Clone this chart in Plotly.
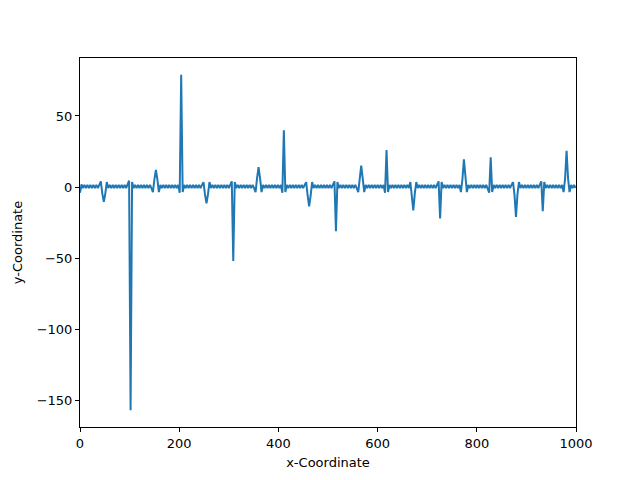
import plotly.graph_objects as go

# samples every 3 units along x, starting at 0
x_start = 0
x_step = 3

y_values = [
    -4.0, 1.8, -0.7, 1.5, -0.7, 1.5, -0.7, 1.5, -0.7, 1.5, -0.7, 1.5, -0.7, 1.5, 4.0, -4.6, -10.3,
    -4.6, 3.5, -0.7, 1.5, -0.7, 1.5, -0.7, 1.5, -0.7, 1.5, -0.7, 1.5, -0.7, 1.5, -0.7, 1.5, 4.5,
    -157.0, 3.5, -0.7, 1.5, -0.7, 1.5, -0.7, 1.5, -0.7, 1.5, -0.7, 1.5, -0.7, 1.5, -0.7, -3.5, 5.4,
    12.0, 5.4, -3.5, 1.5, -0.7, 1.5, -0.7, 1.5, -0.7, 1.5, -0.7, 1.5, -0.7, 1.5, -0.7, 1.5, -4.0,
    79.0, -3.5, 1.5, -0.7, 1.5, -0.7, 1.5, -0.7, 1.5, -0.7, 1.5, -0.7, 1.5, -0.7, 1.5, 3.5, -5.2,
    -11.5, -5.2, 3.5, -0.7, 1.5, -0.7, 1.5, -0.7, 1.5, -0.7, 1.5, -0.7, 1.5, -0.7, 1.5, -0.7, 1.5,
    4.0, -52.0, 3.5, -0.7, 1.5, -0.7, 1.5, -0.7, 1.5, -0.7, 1.5, -0.7, 1.5, -0.7, 1.5, -0.7, -3.5,
    6.3, 14.0, 6.3, -3.5, 1.5, -0.7, 1.5, -0.7, 1.5, -0.7, 1.5, -0.7, 1.5, -0.7, 1.5, -0.7, 1.5,
    -4.0, 40.0, -3.5, 1.5, -0.7, 1.5, -0.7, 1.5, -0.7, 1.5, -0.7, 1.5, -0.7, 1.5, -0.7, 1.5, 3.5,
    -6.1, -13.5, -6.1, 3.5, -0.7, 1.5, -0.7, 1.5, -0.7, 1.5, -0.7, 1.5, -0.7, 1.5, -0.7, 1.5, -0.7,
    1.5, 4.0, -31.0, 3.5, -0.7, 1.5, -0.7, 1.5, -0.7, 1.5, -0.7, 1.5, -0.7, 1.5, -0.7, 1.5, -0.7,
    -3.5, 6.0, 15.0, 6.0, -3.5, 1.5, -0.7, 1.5, -0.7, 1.5, -0.7, 1.5, -0.7, 1.5, -0.7, 1.5, -0.7,
    1.5, -4.0, 26.0, -3.5, 1.5, -0.7, 1.5, -0.7, 1.5, -0.7, 1.5, -0.7, 1.5, -0.7, 1.5, -0.7, 1.5,
    -0.7, 3.5, -5.0, -16.5, -4.5, 3.5, -0.7, 1.5, -0.7, 1.5, -0.7, 1.5, -0.7, 1.5, -0.7, 1.5, -0.7,
    1.5, -0.7, 1.5, 4.0, -22.0, 3.5, -0.7, 1.5, -0.7, 1.5, -0.7, 1.5, -0.7, 1.5, -0.7, 1.5, -0.7,
    1.5, -3.5, 5.5, 19.5, 5.0, -3.5, 1.5, -0.7, 1.5, -0.7, 1.5, -0.7, 1.5, -0.7, 1.5, -0.7, 1.5,
    -0.7, 1.5, -0.7, -4.0, 21.0, -3.5, 1.5, -0.7, 1.5, -0.7, 1.5, -0.7, 1.5, -0.7, 1.5, -0.7, 1.5,
    -0.7, 1.5, 3.5, -5.5, -21.0, -5.0, 3.5, -0.7, 1.5, -0.7, 1.5, -0.7, 1.5, -0.7, 1.5, -0.7, 1.5,
    -0.7, 1.5, -0.7, 1.5, 4.0, -17.0, 3.5, -0.7, 1.5, -0.7, 1.5, -0.7, 1.5, -0.7, 1.5, -0.7, 1.5,
    -0.7, 1.5, -3.5, 6.0, 25.5, 6.0, -3.5, 1.5, -0.7, 1.5, -0.7,
]

x_ticks = [0, 200, 400, 600, 800, 1000]
y_ticks = [-150, -100, -50, 0, 50]

fig = go.Figure()
fig.add_trace(go.Scatter(x0=x_start, dx=x_step, y=y_values, mode='lines',
                         line=dict(color='#1f77b4', width=2), showlegend=False))

axis_style = dict(showline=True, mirror=True, linecolor='black', linewidth=1,
                  ticks='outside', ticklen=4, tickwidth=1, tickcolor='black',
                  showgrid=False, zeroline=False, automargin=False,
                  tickfont=dict(family='DejaVu Sans', size=13, color='black'))

# page body adds an 8px offset, so the figure is 8px smaller than the window
fig.update_layout(width=632, height=472, paper_bgcolor='white', plot_bgcolor='white',
                  margin=dict(l=72, r=64, t=50, b=53),
                  font=dict(family='DejaVu Sans', size=13, color='black'))
fig.update_xaxes(range=[0, 1000], tickvals=x_ticks,
                 title=dict(text='x-Coordinate', standoff=8, font=dict(size=13)), **axis_style)
fig.update_yaxes(range=[-168.8, 90.8], tickvals=y_ticks,
                 title=dict(text='y-Coordinate', standoff=11, font=dict(size=13)), **axis_style)

fig.write_html("out.html")
